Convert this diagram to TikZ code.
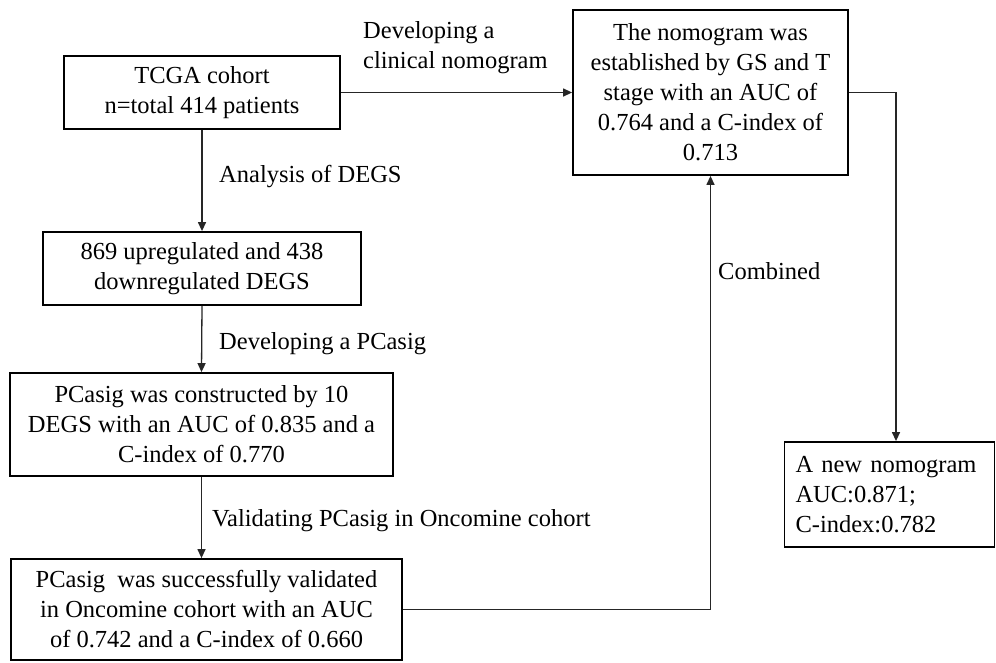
\documentclass[tikz,border=0pt]{standalone}
\usepackage{fontspec}
\setmainfont{Liberation Serif}
\usetikzlibrary{arrows.meta}
\tikzset{
  boxnode/.style={draw=black, line width=1.8pt, inner sep=0pt, align=center,
    font=\fontsize{24.5}{30}\selectfont},
  lbl/.style={inner sep=0pt, anchor=west, align=left,
    font=\fontsize{24.5}{30}\selectfont},
  conn/.style={draw=black!85, line width=1.3pt},
  arr/.style={conn, -{Triangle[length=9pt,width=8pt]}}
}
\begin{document}
\begin{tikzpicture}[x=1pt,y=-1pt]
\useasboundingbox[fill=white] (0,0) rectangle (996,662);
\node[boxnode, minimum width=276pt, minimum height=73pt] (tcga) at (202,92.5)
  {TCGA cohort\\n=total 414 patients};
\node[boxnode, minimum width=318pt, minimum height=73pt] (degs) at (202,268.5)
  {869 upregulated and 438\\downregulated DEGS};
\node[boxnode, minimum width=383pt, minimum height=103pt] (pcasig) at (201.5,424.5)
  {PCasig was constructed by 10\\DEGS with an AUC of 0.835 and a\\C-index of 0.770};
\node[boxnode, minimum width=391pt, minimum height=101pt] (valid) at (206.5,609.5)
  {PCasig\ \ was successfully validated\\in Oncomine cohort with an AUC\\of 0.742 and a C-index of 0.660};
\node[boxnode, minimum width=275pt, minimum height=165pt] (nomo) at (710.5,92.5)
  {The nomogram was\\established by GS and T\\stage with an AUC of\\0.764 and a C-index of\\0.713};
\node[boxnode, minimum width=210pt, minimum height=105pt, align=left, text width=188pt] (newnomo) at (889.5,494.5)
  {A new nomogram\\AUC:0.871;\\C-index:0.782};
\node[lbl] (l1) at (363,47.5) {Developing a\\clinical nomogram};
\node[lbl] (l2) at (219,177) {Analysis of DEGS};
\node[lbl] (l3) at (219,344) {Developing a PCasig};
\node[lbl] (l4) at (212,521) {Validating PCasig in Oncomine cohort};
\node[lbl] (l5) at (718,271) {Combined};
\draw[arr] (tcga.south) -- (degs.north);
\draw[arr] (degs.south) -- (pcasig.north);
\draw[arr] (pcasig.south) -- (pcasig.south |- valid.north);
\draw[arr] (tcga.east) -- (nomo.west);
\draw[arr] (valid.east) -| (nomo.south);
\coordinate (newtop) at ([xshift=6.5pt]newnomo.north);
\draw[arr] (nomo.east) -| (newtop);
\end{tikzpicture}
\end{document}
